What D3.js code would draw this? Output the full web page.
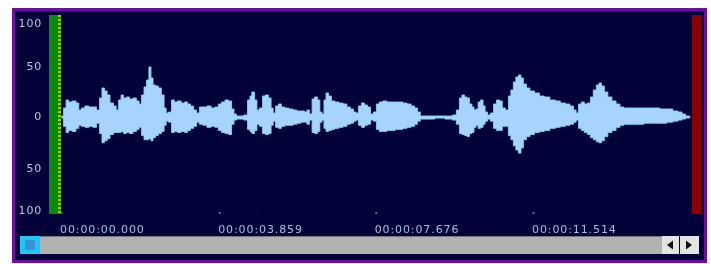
<!DOCTYPE html>
<html><head><meta charset="utf-8">
<script src="https://cdn.jsdelivr.net/npm/d3@7/dist/d3.min.js"></script>
<style>html,body{margin:0;padding:0;background:#fff;}svg{display:block;}</style>
</head><body>
<script>
// ---- data ----
const times = [0.02,0.10,0.15,0.22,0.32,0.41,0.46,0.54,0.63,0.73,0.83,0.90,0.98,1.02,1.10,1.15,1.24,1.32,1.37,1.44,1.49,1.56,1.63,1.71,1.80,1.88,1.93,2.00,2.05,2.12,2.17,2.22,2.27,2.34,2.41,2.49,2.54,2.59,2.66,2.73,2.80,2.88,2.98,3.05,3.12,3.20,3.27,3.34,3.41,3.51,3.61,3.71,3.80,3.88,3.95,4.05,4.12,4.20,4.24,4.32,4.41,4.51,4.59,4.63,4.68,4.76,4.80,4.88,4.95,5.02,5.10,5.15,5.20,5.27,5.34,5.41,5.51,5.61,5.71,5.80,5.90,5.98,6.02,6.10,6.15,6.22,6.29,6.34,6.39,6.44,6.49,6.56,6.63,6.73,6.83,6.93,7.02,7.10,7.17,7.22,7.29,7.37,7.44,7.51,7.59,7.66,7.73,7.80,7.90,8.00,8.10,8.20,8.29,8.39,8.49,8.59,8.66,8.73,8.80,9.00,9.24,9.49,9.61,9.68,9.76,9.80,9.88,9.93,10.00,10.05,10.10,10.15,10.20,10.27,10.32,10.37,10.44,10.51,10.59,10.66,10.73,10.80,10.88,10.95,11.00,11.07,11.12,11.20,11.24,11.32,11.39,11.49,11.61,11.73,11.85,12.00,12.12,12.24,12.37,12.46,12.54,12.59,12.66,12.73,12.80,12.88,12.95,13.02,13.10,13.15,13.22,13.29,13.39,13.49,13.59,13.68,13.78,13.93,14.12,14.32,14.51,14.71,14.85,15.00,15.10,15.20,15.27,15.34];
const upper = [0,8,16,14,15,13,6,8,10,9,9,6,18,28,25,21,13,10,6,16,21,18,19,17,18,15,12,21,29,36,49,38,31,30,28,21,8,3,4,16,14,15,13,14,12,10,6,3,9,9,10,8,9,12,14,16,15,7,2,0,0,1,16,20,24,16,6,8,20,21,18,8,3,10,12,9,8,7,6,5,5,4,6,2,17,19,16,4,2,16,23,20,15,14,13,12,9,7,4,3,10,13,11,9,2,4,12,14,15,14,14,14,14,13,12,10,8,4,0,0,0,0,1,6,18,21,19,18,12,9,6,7,14,16,10,4,1,3,12,16,15,8,6,20,26,34,39,41,38,32,28,25,23,20,19,16,15,13,12,10,6,3,12,14,12,13,19,26,31,33,30,24,19,15,12,9,8,8,8,8,8,7,7,5,4,2,0,0];
const lower = [-2,-10,-16,-14,-15,-12,-9,-10,-11,-10,-11,-7,-17,-26,-24,-22,-18,-16,-16,-16,-15,-17,-16,-17,-15,-13,-11,-19,-23,-23,-22,-24,-21,-19,-17,-15,-9,-5,-6,-16,-15,-16,-15,-16,-14,-12,-10,-6,-8,-9,-11,-10,-11,-14,-16,-17,-18,-8,-4,-3,-3,-4,-13,-15,-17,-14,-8,-10,-17,-18,-17,-9,-5,-11,-12,-10,-9,-9,-8,-7,-6,-6,-8,-4,-16,-17,-15,-6,-4,-12,-15,-14,-13,-12,-11,-10,-8,-7,-5,-4,-9,-11,-9,-8,-4,-5,-13,-15,-15,-14,-14,-13,-13,-12,-11,-10,-8,-5,-3,-3,-2,-3,-4,-8,-17,-18,-19,-20,-17,-16,-11,-9,-12,-11,-8,-5,-3,-5,-12,-14,-14,-10,-10,-19,-23,-29,-33,-36,-31,-23,-20,-18,-16,-15,-14,-12,-11,-10,-9,-8,-6,-4,-12,-14,-16,-18,-21,-23,-25,-26,-24,-20,-16,-14,-11,-9,-8,-8,-8,-7,-7,-7,-6,-5,-4,-3,-2,-2];
const ampTicks = [100, 50, 0, -50, -100];
const ampTickLabels = ["100", "50", "0", "50", "100"];
const timeTicks = [0, 3.859, 7.676, 11.514];
const timeTickLabels = ["00:00:00.000", "00:00:03.859", "00:00:07.676", "00:00:11.514"];

// ---- drawing ----
const W = 711, H = 264;
const svg = d3.select("body").append("svg").attr("width", W).attr("height", H);
svg.append("rect").attr("width", W).attr("height", H).attr("fill", "#ffffff");

const defs = svg.append("defs");
defs.append("filter").attr("id", "soft").append("feGaussianBlur").attr("stdDeviation", 0.35);

// frame
svg.append("rect").attr("x", 13.5).attr("y", 9.5).attr("width", 692).attr("height", 252)
  .attr("fill", "#020238").attr("stroke", "#6a0fa0").attr("stroke-width", 3);

const x = d3.scaleLinear().domain([0, 11.514]).range([61, 533]);
const y = d3.scaleLinear().domain([-100, -50, 0, 50, 100]).range([209.5, 167.5, 116, 66, 22.5]);

// level meters
svg.append("rect").attr("x", 49).attr("y", 15).attr("width", 12).attr("height", 199).attr("fill", "#0a8a0a");
svg.append("line").attr("x1", 59.5).attr("x2", 59.5).attr("y1", 15).attr("y2", 214)
  .attr("stroke", "#b4c800").attr("stroke-width", 3).attr("stroke-dasharray", "2,2");
svg.append("rect").attr("x", 692).attr("y", 15).attr("width", 10).attr("height", 199).attr("fill", "#8a0000");

// amplitude axis labels
const yAxis = d3.axisLeft(y).tickValues(ampTicks).tickSize(0).tickPadding(0)
  .tickFormat((d, i) => ampTickLabels[i]);
const yg = svg.append("g").attr("transform", "translate(42,0)").call(yAxis);
yg.select(".domain").remove();
yg.selectAll("text").attr("fill", "#bcc8da").attr("font-family", "DejaVu Sans")
  .attr("font-size", 11).attr("letter-spacing", 0.8).attr("filter", "url(#soft)");

// waveform
const pts = times.map((t, i) => ({t, hi: upper[i], lo: lower[i]}));
const area = d3.area().curve(d3.curveStep).x(d => x(d.t)).y0(d => y(d.lo)).y1(d => y(d.hi));
svg.append("path").datum(pts).attr("d", area)
  .attr("fill", "#a6d4ff").attr("stroke", "#86d2ea").attr("stroke-width", 0.9).attr("stroke-linejoin", "round")
  .attr("filter", "url(#soft)");

// time axis
const xg = svg.append("g");
xg.selectAll("rect.minor").data(d3.range(0, 15.4, 11.514 / 12)).join("rect")
  .attr("class", "minor")
  .attr("x", d => x(d)).attr("y", 212.5).attr("width", 1).attr("height", 1).attr("fill", "#1c2a66");
xg.selectAll("rect.major").data(timeTicks).join("rect")
  .attr("class", "major")
  .attr("x", d => x(d) - 0.5).attr("y", 212).attr("width", 2).attr("height", 2).attr("fill", "#4a6aa8");
xg.selectAll("text").data(timeTicks).join("text")
  .attr("x", d => x(d) - 1).attr("y", 233)
  .attr("fill", "#a2c0dc").attr("font-family", "DejaVu Sans").attr("font-size", 11)
  .attr("letter-spacing", 0.9).attr("filter", "url(#soft)")
  .text((d, i) => timeTickLabels[i]);

// scrollbar
svg.append("rect").attr("x", 40).attr("y", 236).attr("width", 622).attr("height", 18).attr("fill", "#b2b2b2");
svg.append("line").attr("x1", 40).attr("x2", 662).attr("y1", 236.5).attr("y2", 236.5).attr("stroke", "#777");
svg.append("rect").attr("x", 20).attr("y", 236).attr("width", 20).attr("height", 18).attr("fill", "#22c6f6");
svg.append("rect").attr("x", 25).attr("y", 240).attr("width", 10).attr("height", 10).attr("fill", "#3a92d2");
svg.append("rect").attr("x", 662).attr("y", 236).attr("width", 17).attr("height", 18).attr("fill", "#e4e4e4");
svg.append("rect").attr("x", 680).attr("y", 236).attr("width", 19).attr("height", 18).attr("fill", "#e4e4e4");
svg.append("path").attr("d", "M667,245 L673,240.5 L673,249.5 Z").attr("fill", "#111");
svg.append("path").attr("d", "M692,245 L686,240.5 L686,249.5 Z").attr("fill", "#111");
</script>
</body></html>
